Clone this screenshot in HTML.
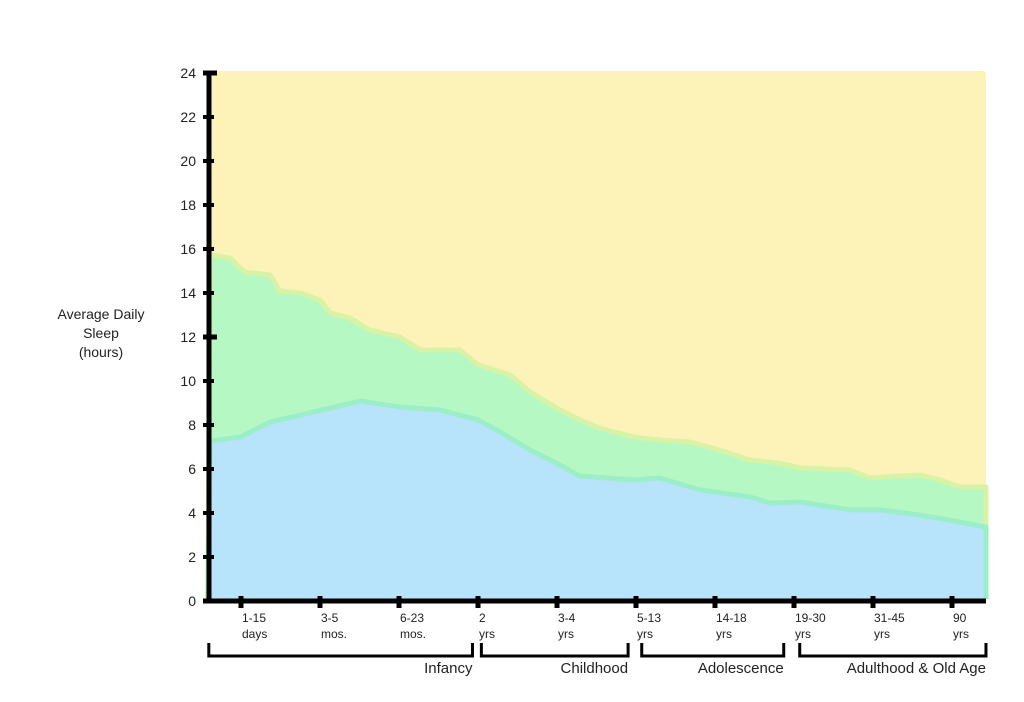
<!DOCTYPE html>
<html><head><meta charset="utf-8"><style>
body{margin:0;background:#fff;}
svg text{font-family:"Liberation Sans",Arial,sans-serif;fill:#222;}
</style></head><body>
<svg id="chart" width="1024" height="697" viewBox="0 0 1024 697" xmlns="http://www.w3.org/2000/svg">
<g id="areas"></g><g id="axes"></g><g id="labels"></g>
<text x="101" y="319" font-size="14" text-anchor="middle">Average Daily</text>
<text x="101" y="338" font-size="14" text-anchor="middle">Sleep</text>
<text x="101" y="357" font-size="14" text-anchor="middle">(hours)</text>
</svg>
<script>
const categories=[["1-15","days"],["3-5","mos."],["6-23","mos."],["2","yrs"],["3-4","yrs"],["5-13","yrs"],["14-18","yrs"],["19-30","yrs"],["31-45","yrs"],["90","yrs"]];
const yTicks=[0,2,4,6,8,10,12,14,16,18,20,22,24];
const blueX=[-0.39,-0.01,0.37,0.75,1.13,1.51,2.01,2.52,3.0,3.28,3.66,4.04,4.29,4.97,5.3,5.81,6.44,6.7,7.08,7.71,8.09,8.59,9.1,9.42];
const blueY=[7.27,7.45,8.14,8.45,8.77,9.09,8.82,8.68,8.23,7.68,6.86,6.18,5.68,5.5,5.59,5.05,4.73,4.45,4.5,4.14,4.14,3.91,3.59,3.36];
const totalX=[-0.39,-0.14,0.05,0.37,0.49,0.75,1.0,1.13,1.38,1.63,2.01,2.27,2.77,3.0,3.41,3.66,4.04,4.29,4.54,4.97,5.3,5.68,6.06,6.44,6.82,7.08,7.71,7.96,8.34,8.59,8.85,9.1,9.42];
const totalY=[15.73,15.59,14.95,14.82,14.09,14.0,13.68,13.09,12.86,12.32,12.0,11.41,11.41,10.73,10.27,9.5,8.68,8.23,7.86,7.45,7.32,7.23,6.86,6.41,6.27,6.05,5.95,5.59,5.68,5.73,5.5,5.18,5.18];
const groups=[["Infancy",-0.42,2.93],["Childhood",3.03,4.9],["Adolescence",5.06,6.87],["Adulthood & Old Age",7.06,9.43]];
const yMax=24;
const NS="http://www.w3.org/2000/svg";
const xs=i=>241+i*79, ys=v=>601-v*22;
const X0=xs(-0.42), X1=xs(9.43);
function el(tag,attrs,parent){const e=document.createElementNS(NS,tag);for(const k in attrs)e.setAttribute(k,attrs[k]);document.getElementById(parent).appendChild(e);return e;}
let r=el('rect',{x:X0+2,y:ys(yMax)-2,width:X1-X0-2,height:ys(0)-ys(yMax)+2,fill:'#fdf3b8',rx:3},'areas');


function area(X,Y,fill,stroke,name){
 let d='M'+X0+','+ys(0);
 X.forEach((x,i)=>{d+=' L'+xs(x)+','+ys(Y[i]);});
 d+=' L'+X1+','+ys(Y[Y.length-1])+' L'+X1+','+ys(0)+'Z';
 const p=el('path',{d:d,fill:fill,stroke:stroke,'stroke-width':5,'stroke-linejoin':'round'},'areas');
 
 
}
area(totalX,totalY,'#b6f8c4','#d8f2a6','rem-sleep-area');
area(blueX,blueY,'#b7e4fa','#9ceec8','nonrem-sleep-area');
// cover bottom strokes
el('rect',{x:X0,y:ys(0)-2,width:X1-X0+4,height:6,fill:'#fff'},'areas');
let a=el('line',{x1:209,y1:71,x2:209,y2:603,stroke:'#000','stroke-width':5},'axes');


a=el('line',{x1:203,y1:601,x2:X1,y2:601,stroke:'#000','stroke-width':5},'axes');


yTicks.forEach(v=>{
 const big=(v===24||v===12);
 const t=el('line',{x1:203,y1:ys(v),x2:big?217:214,y2:ys(v),stroke:'#000','stroke-width':big?5:4},'axes');
 
 
 const l=el('text',{x:196,y:ys(v)+5,'font-size':14,'text-anchor':'end'},'labels');
 l.textContent=v;
 
 
});
categories.forEach((c,i)=>{
 const t=el('line',{x1:xs(i),y1:596,x2:xs(i),y2:608,stroke:'#000','stroke-width':5},'axes');
 
 
 [0,1].forEach(j=>{
  const l=el('text',{x:xs(i)+1,y:622+j*16,'font-size':12},'labels');
  l.textContent=c[j];
  
  
 });
});
groups.forEach(g=>{
 const a=xs(g[1])+1,b=xs(g[2]);
 const p=el('path',{d:`M${a},643 L${a},656 L${b},656 L${b},643`,fill:'none',stroke:'#000','stroke-width':3},'axes');
 
 
 const l=el('text',{x:b,y:673,'font-size':15,'text-anchor':'end'},'labels');
 l.textContent=g[0];
 
 
});
</script>
</body></html>
